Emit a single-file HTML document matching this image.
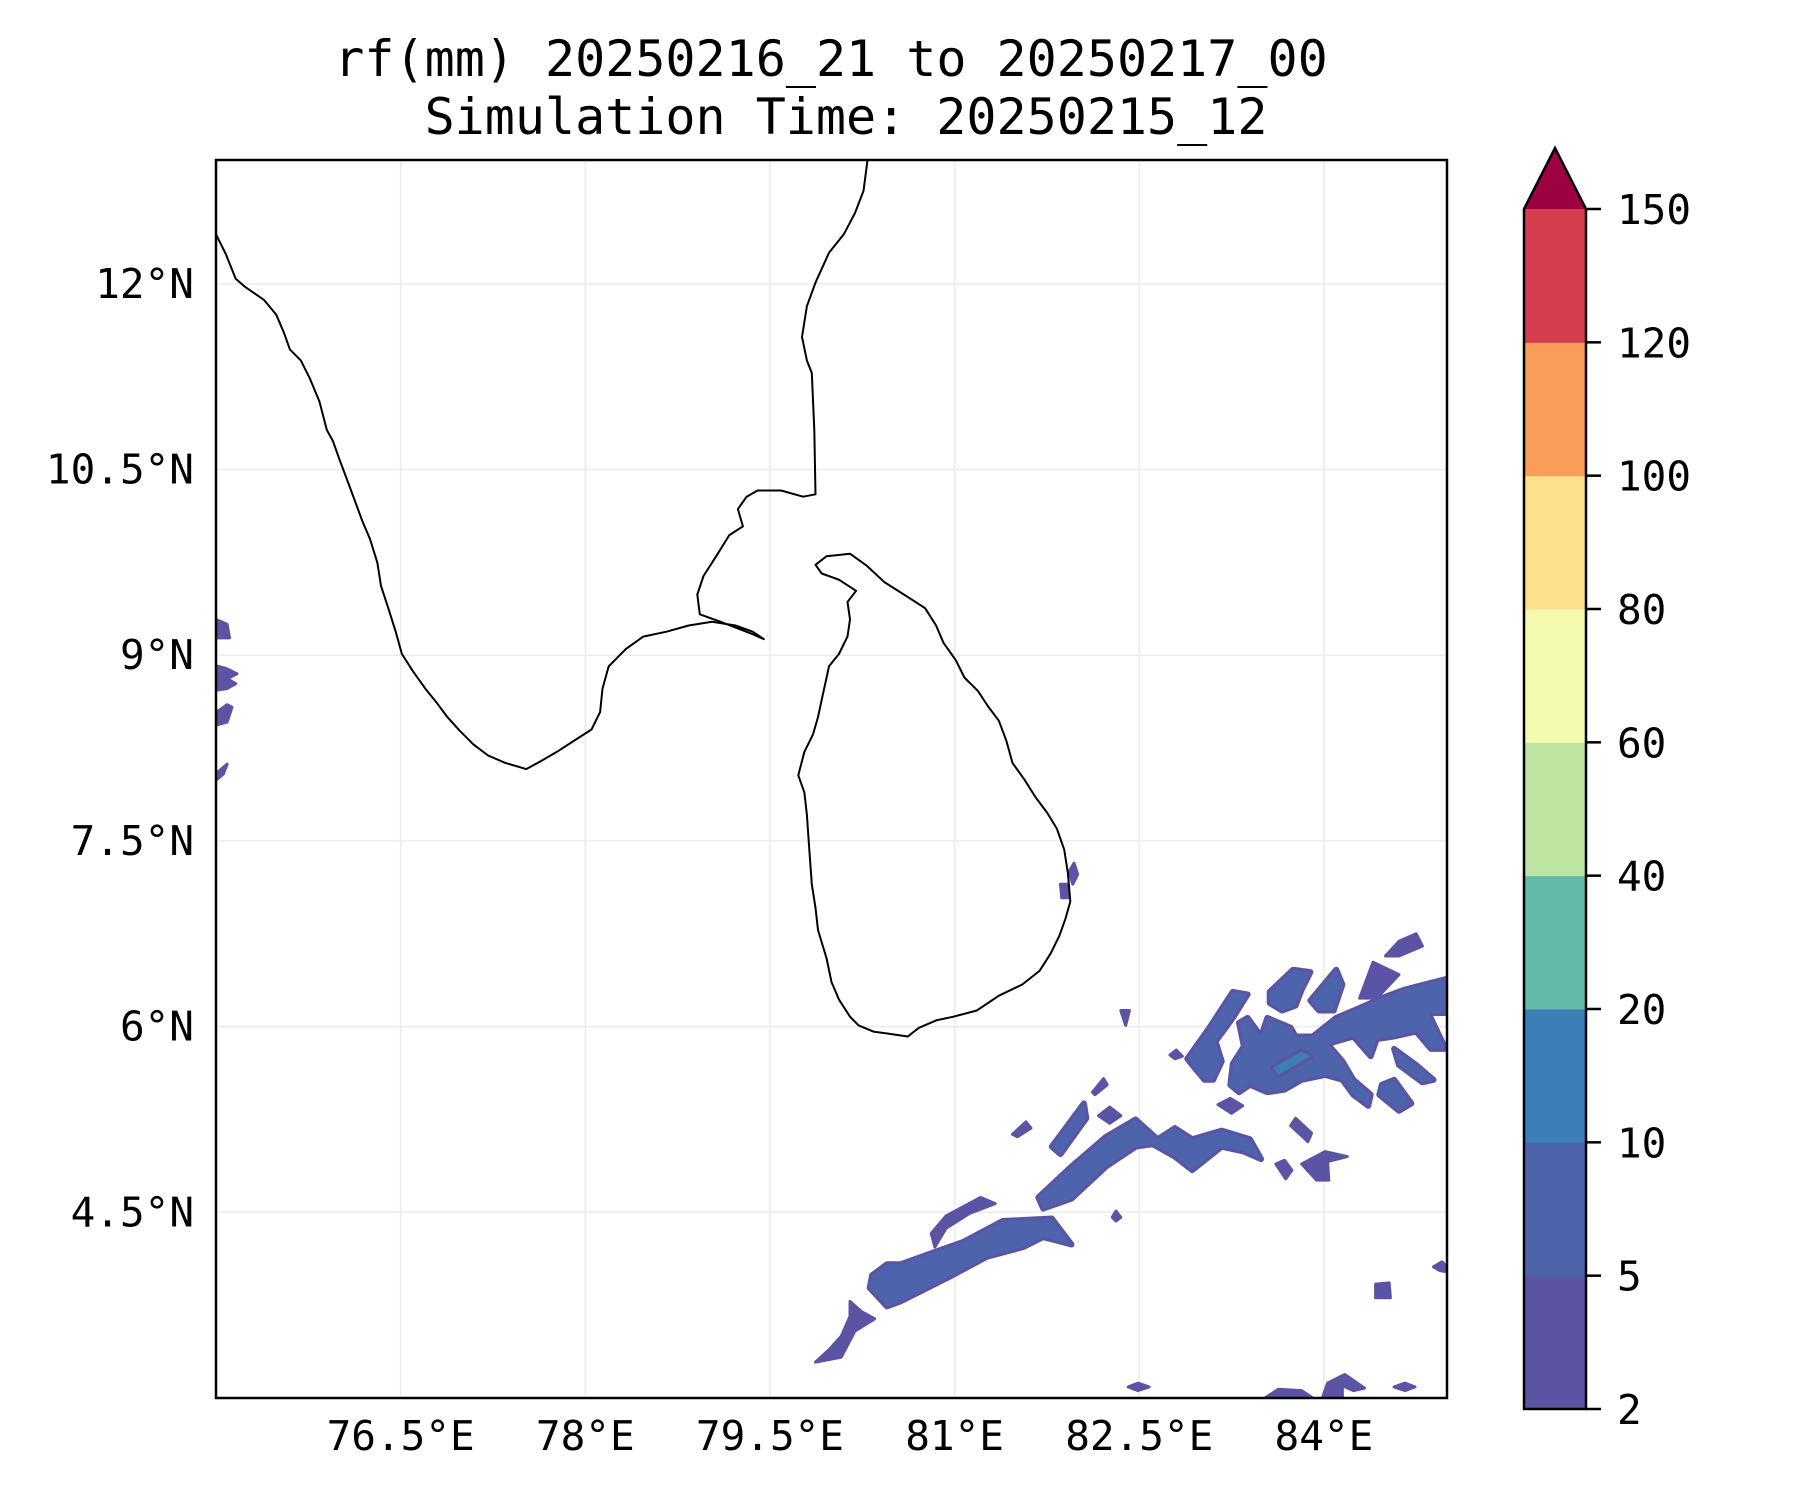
<!DOCTYPE html>
<html>
<head>
<meta charset="utf-8">
<style>
html,body{margin:0;padding:0;background:#fff;}
svg{display:block;}
text{font-family:"DejaVu Sans Mono","Liberation Mono",monospace;fill:#000;}
</style>
</head>
<body>
<svg id="chart" width="1800" height="1500" viewBox="0 0 1800 1500" xmlns="http://www.w3.org/2000/svg">
  <rect x="0" y="0" width="1800" height="1500" fill="#fff"/>
  <text x="831" y="76" font-size="50" text-anchor="middle">rf(mm) 20250216_21 to 20250217_00</text>
  <text x="846" y="134" font-size="50" text-anchor="middle">Simulation Time: 20250215_12</text>
  <defs><clipPath id="plotclip"><rect x="216" y="160" width="1231" height="1238"/></clipPath></defs>
  <g id="grid"></g>
  <g id="rain" clip-path="url(#plotclip)"></g>
  <g id="coast" clip-path="url(#plotclip)"></g>
  <rect x="216" y="160" width="1231" height="1238" fill="none" stroke="#000" stroke-width="2.5"/>
  <g id="xticks"></g>
  <g id="yticks"></g>
  <g id="cbar"></g>
</svg>
<script>
const lonTicks = [76.5, 78, 79.5, 81, 82.5, 84];
const lonTickLabels = ["76.5°E", "78°E", "79.5°E", "81°E", "82.5°E", "84°E"];
const latTicks = [12, 10.5, 9, 7.5, 6, 4.5];
const latTickLabels = ["12°N", "10.5°N", "9°N", "7.5°N", "6°N", "4.5°N"];
const levels = [2, 5, 10, 20, 40, 60, 80, 100, 120, 150];
const levelColors = ["#5b53a4", "#4d64ad", "#3a7fb8", "#62bba9", "#bde4a0", "#f3faae", "#fde08b", "#f99d59", "#d53e4f"];
const extendColor = "#9e0142";

const indiaCoast = [[75.0,12.40],[75.08,12.24],[75.16,12.04],[75.23,11.98],[75.39,11.87],[75.49,11.75],[75.55,11.61],[75.60,11.47],[75.69,11.38],[75.76,11.24],[75.84,11.05],[75.90,10.82],[75.95,10.73],[76.00,10.59],[76.09,10.35],[76.19,10.08],[76.25,9.94],[76.31,9.75],[76.34,9.56],[76.40,9.38],[76.46,9.19],[76.51,9.01],[76.60,8.87],[76.70,8.73],[76.79,8.62],[76.88,8.50],[76.98,8.39],[77.09,8.28],[77.21,8.19],[77.35,8.13],[77.52,8.08],[77.63,8.14],[77.77,8.22],[77.91,8.31],[78.05,8.40],[78.12,8.54],[78.14,8.73],[78.19,8.91],[78.33,9.05],[78.47,9.15],[78.66,9.19],[78.84,9.24],[79.03,9.27],[79.22,9.24],[79.36,9.19],[79.45,9.13],[79.36,9.17],[79.10,9.27],[78.93,9.33],[78.91,9.49],[78.96,9.64],[79.07,9.81],[79.17,9.97],[79.28,10.04],[79.24,10.18],[79.31,10.28],[79.40,10.33],[79.59,10.33],[79.77,10.28],[79.87,10.30],[79.86,10.82],[79.84,11.28],[79.80,11.38],[79.76,11.57],[79.80,11.82],[79.87,12.01],[79.98,12.25],[80.10,12.40],[80.19,12.57],[80.26,12.75],[80.29,12.98],[80.30,13.05]];
const sriLankaCoast = [[79.87,9.73],[79.96,9.80],[80.15,9.82],[80.29,9.72],[80.43,9.59],[80.62,9.47],[80.76,9.38],[80.85,9.24],[80.91,9.10],[81.01,8.96],[81.08,8.82],[81.19,8.71],[81.27,8.59],[81.36,8.47],[81.42,8.31],[81.47,8.13],[81.57,7.99],[81.66,7.85],[81.75,7.73],[81.83,7.60],[81.89,7.43],[81.92,7.24],[81.94,7.01],[81.90,6.87],[81.85,6.73],[81.78,6.59],[81.69,6.45],[81.55,6.34],[81.36,6.25],[81.18,6.13],[80.99,6.08],[80.85,6.05],[80.71,5.99],[80.62,5.92],[80.48,5.94],[80.34,5.96],[80.22,6.01],[80.15,6.08],[80.06,6.22],[80.00,6.36],[79.96,6.55],[79.89,6.78],[79.87,6.96],[79.84,7.15],[79.82,7.43],[79.80,7.71],[79.78,7.89],[79.73,8.03],[79.78,8.22],[79.85,8.36],[79.89,8.50],[79.92,8.64],[79.96,8.82],[79.98,8.91],[80.06,9.01],[80.13,9.15],[80.15,9.29],[80.13,9.43],[80.20,9.52],[80.06,9.61],[79.92,9.66],[79.87,9.73]];

const rainShapes = [
 [[80.31,3.89],[80.33,3.99],[80.45,4.08],[80.56,4.08],[80.84,4.18],[81.07,4.26],[81.39,4.43],[81.79,4.45],[81.95,4.24],[81.72,4.30],[81.56,4.22],[81.26,4.14],[80.98,3.99],[80.74,3.87],[80.56,3.78],[80.45,3.74]],
 [[80.15,3.78],[80.24,3.70],[80.35,3.64],[80.19,3.54],[80.08,3.33],[79.87,3.29],[79.98,3.39],[80.08,3.50],[80.15,3.66]],
 [[81.68,4.62],[81.95,4.87],[82.23,5.11],[82.47,5.25],[82.65,5.09],[82.79,5.18],[82.93,5.09],[83.17,5.16],[83.40,5.09],[83.49,4.93],[83.35,4.99],[83.17,5.03],[82.93,4.84],[82.79,4.95],[82.61,5.05],[82.47,5.03],[82.23,4.87],[81.95,4.61],[81.72,4.53]],
 [[83.26,5.70],[83.35,5.84],[83.31,6.03],[83.38,6.07],[83.49,5.92],[83.54,6.07],[83.73,5.99],[83.77,5.92],[83.91,5.92],[84.10,6.07],[84.29,6.15],[84.47,6.23],[84.66,6.30],[85.05,6.40],[85.05,6.11],[84.85,6.11],[84.94,5.92],[84.99,5.82],[84.87,5.82],[84.75,5.96],[84.57,5.92],[84.43,5.90],[84.38,5.76],[84.24,5.92],[84.03,5.86],[84.15,5.72],[84.24,5.57],[84.38,5.45],[84.36,5.36],[84.24,5.45],[84.15,5.57],[84.01,5.61],[83.82,5.57],[83.68,5.49],[83.54,5.47],[83.40,5.53],[83.31,5.47],[83.24,5.53]],
 [[82.89,5.74],[83.07,5.99],[83.26,6.28],[83.38,6.26],[83.26,6.07],[83.12,5.88],[83.17,5.72],[83.10,5.57],[83.03,5.57],[82.93,5.69]],
 [[83.56,6.28],[83.75,6.46],[83.89,6.44],[83.82,6.30],[83.77,6.17],[83.66,6.13],[83.56,6.19]],
 [[83.89,6.21],[84.10,6.46],[84.15,6.34],[84.08,6.13],[83.96,6.13]],
 [[84.29,6.23],[84.40,6.52],[84.61,6.42],[84.43,6.23]],
 [[84.50,6.57],[84.61,6.69],[84.75,6.75],[84.80,6.65],[84.61,6.57]],
 [[84.57,5.82],[84.75,5.69],[84.89,5.57],[84.80,5.55],[84.61,5.69]],
 [[84.47,5.53],[84.57,5.57],[84.71,5.38],[84.61,5.32],[84.45,5.45]],
 [[81.79,5.03],[82.05,5.38],[82.07,5.26],[81.86,4.97]],
 [[80.81,4.33],[80.93,4.47],[81.21,4.62],[81.33,4.57],[81.12,4.49],[80.93,4.37],[80.84,4.22]],
 [[82.17,5.28],[82.26,5.35],[82.35,5.28],[82.26,5.22]],
 [[82.12,5.47],[82.21,5.58],[82.24,5.53],[82.14,5.45]],
 [[81.47,5.13],[81.58,5.23],[81.62,5.18],[81.51,5.11]],
 [[83.61,4.89],[83.68,4.92],[83.74,4.84],[83.69,4.77]],
 [[83.82,4.89],[84.01,4.99],[84.19,4.95],[84.03,4.91],[84.04,4.76],[83.94,4.76]],
 [[83.73,5.20],[83.77,5.26],[83.90,5.14],[83.87,5.07]],
 [[83.14,5.37],[83.24,5.42],[83.34,5.36],[83.25,5.30]],
 [[82.75,5.77],[82.80,5.81],[82.85,5.76],[82.79,5.74]],
 [[84.42,3.92],[84.53,3.93],[84.54,3.81],[84.42,3.81]],
 [[84.89,4.06],[84.96,4.10],[85.05,4.01],[84.94,4.03]],
 [[83.49,2.98],[83.63,3.07],[83.82,3.06],[83.94,2.98]],
 [[83.98,2.98],[84.03,3.12],[84.17,3.19],[84.33,3.08],[84.24,3.06],[84.15,3.10],[84.15,2.98]],
 [[82.41,3.09],[82.49,3.12],[82.58,3.09],[82.49,3.06]],
 [[84.57,3.09],[84.66,3.12],[84.74,3.09],[84.66,3.06]],
 [[81.93,7.25],[81.97,7.32],[82.00,7.23],[81.96,7.15]],
 [[81.86,7.15],[81.92,7.15],[81.92,7.04],[81.87,7.04]],
 [[82.35,6.13],[82.42,6.13],[82.39,6.01]],
 [[82.31,4.51],[82.35,4.46],[82.31,4.43],[82.28,4.46]],
 [[74.95,9.31],[75.09,9.25],[75.11,9.14],[74.95,9.14]],
 [[74.95,8.93],[75.09,8.89],[75.17,8.85],[75.09,8.81],[75.16,8.77],[75.09,8.73],[74.95,8.71]],
 [[74.95,8.50],[75.09,8.60],[75.13,8.58],[75.09,8.46],[74.95,8.42]],
 [[74.95,8.00],[75.09,8.12],[75.06,8.04],[74.95,7.95]],
 [[83.59,5.67],[83.82,5.80],[83.89,5.76],[83.63,5.61]]
];
const rainClass = [1,0,1,1,1,1,1,0,0,1,1,1,0,0,0,0,0,0,0,0,0,0,0,0,0,0,0,0,0,0,0,0,0,0,0,2];

const X0 = 216, X1 = 1447, Y0 = 160, Y1 = 1398;
const lonMin = 75, lonMax = 85, latMin = 3, latMax = 13;
function xs(lon){ return X0 + (lon - lonMin) / (lonMax - lonMin) * (X1 - X0); }
function ys(lat){ return Y0 + (latMax - lat) / (latMax - latMin) * (Y1 - Y0); }
const NS = "http://www.w3.org/2000/svg";
function mk(tag, attrs, parent){
  const e = document.createElementNS(NS, tag);
  for (const k in attrs) e.setAttribute(k, attrs[k]);
  parent.appendChild(e);
  return e;
}
function pathOf(pts, close){
  return pts.map((p,i)=>(i?"L":"M")+xs(p[0]).toFixed(1)+","+ys(p[1]).toFixed(1)).join("")+(close?"Z":"");
}

const grid = document.getElementById("grid");
lonTicks.forEach((lon,i)=>{
  const l = mk("line",{x1:xs(lon),x2:xs(lon),y1:Y0,y2:Y1,stroke:"#ebebeb","stroke-width":1.5},grid);
  
  
});
latTicks.forEach((lat,i)=>{
  const l = mk("line",{x1:X0,x2:X1,y1:ys(lat),y2:ys(lat),stroke:"#ebebeb","stroke-width":1.5},grid);
  
  
});

const rain = document.getElementById("rain");
rainShapes.forEach((pts,i)=>{
  const c = rainClass[i];
  const d = pathOf(pts,true);
  const base = mk("path",{d:d,fill:levelColors[0],stroke:levelColors[0],"stroke-width":3,"stroke-linejoin":"round"},rain);
  
  
  if (c >= 1) {
    const inner = mk("path",{d:d,fill:levelColors[c],stroke:levelColors[0],"stroke-width":6,"stroke-linejoin":"round","paint-order":"stroke"},rain);
    
    
  }
});

const coast = document.getElementById("coast");
const ic = mk("path",{d:pathOf(indiaCoast,false),fill:"none",stroke:"#000","stroke-width":2,"stroke-linejoin":"round"},coast);


const sl = mk("path",{d:pathOf(sriLankaCoast,true),fill:"none",stroke:"#000","stroke-width":2,"stroke-linejoin":"round"},coast);



const xt = document.getElementById("xticks");
lonTicks.forEach((lon,i)=>{
  const t = mk("text",{x:xs(lon),y:1450,"font-size":41,"text-anchor":"middle"},xt);
  t.textContent = lonTickLabels[i];
  
  
});
const yt = document.getElementById("yticks");
latTicks.forEach((lat,i)=>{
  const t = mk("text",{x:194,y:ys(lat)+14,"font-size":41,"text-anchor":"end"},yt);
  t.textContent = latTickLabels[i];
  
  
});

const cb = document.getElementById("cbar");
const CBX0 = 1524, CBX1 = 1586, CBTOP = 209, CBBOT = 1409, TIP = 148;
const nb = levels.length - 1;
const bh = (CBBOT - CBTOP) / nb;
function cby(i){ return CBBOT - i * bh; }
levelColors.forEach((col,i)=>{
  const r = mk("rect",{x:CBX0,y:cby(i+1),width:CBX1-CBX0,height:bh+0.5,fill:col},cb);
  
  
});
const tri = mk("polygon",{points:`${CBX0},${CBTOP} ${(CBX0+CBX1)/2},${TIP} ${CBX1},${CBTOP}`,fill:extendColor},cb);


const outline = mk("path",{d:`M${CBX0},${CBBOT}L${CBX0},${CBTOP}L${(CBX0+CBX1)/2},${TIP}L${CBX1},${CBTOP}L${CBX1},${CBBOT}Z`,fill:"none",stroke:"#000","stroke-width":2.5},cb);


levels.forEach((v,i)=>{
  const tk = mk("line",{x1:CBX1,x2:CBX1+15,y1:cby(i),y2:cby(i),stroke:"#000","stroke-width":2.5},cb);
  
  
  const t = mk("text",{x:1617,y:cby(i)+15,"font-size":41},cb);
  t.textContent = String(v);
  
  
});
</script>
</body>
</html>
